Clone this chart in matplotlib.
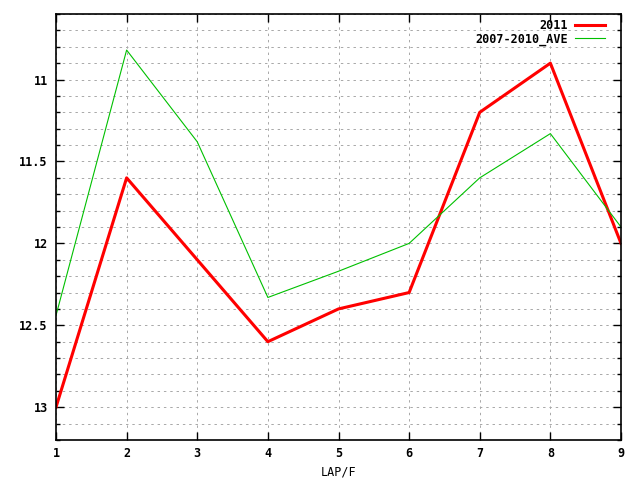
import numpy as np
import matplotlib.pyplot as plt
from matplotlib.ticker import MultipleLocator

laps = [1, 2, 3, 4, 5, 6, 7, 8, 9]
time_2011 = [13.0, 11.6, 12.1, 12.6, 12.4, 12.3, 11.2, 10.9, 12.0]
time_ave = [12.44, 10.82, 11.38, 12.33, 12.17, 12.0, 11.6, 11.33, 11.9]

plt.rcParams["font.family"] = "DejaVu Sans Mono"
plt.rcParams["font.weight"] = "bold"
plt.rcParams["font.size"] = 8.5

fig = plt.figure(figsize=(6.4, 4.8), dpi=100)
ax = fig.add_axes([56 / 640, 40 / 480, 565 / 640, 426 / 480])

ax.plot(laps, time_2011, color="#ff0000", lw=2.2, label="2011")
ax.plot(laps, time_ave, color="#00c000", lw=0.8, label="2007-2010_AVE")

ax.set_xlim(1, 9)
ax.set_ylim(13.2, 10.6)
ax.xaxis.set_major_locator(MultipleLocator(1))
ax.yaxis.set_minor_locator(MultipleLocator(0.1))
ax.set_yticks([11, 11.5, 12, 12.5, 13])
ax.set_yticklabels(["11", "11.5", "12", "12.5", "13"])

ax.tick_params(which="both", direction="in", top=True, right=True, width=1)
ax.tick_params(which="major", length=6)
ax.tick_params(which="minor", length=3)
ax.tick_params(axis="x", pad=5)
ax.tick_params(axis="y", pad=6)
grid_kw = dict(color="#a8a8a8", ls=(0, (2.5, 4)), lw=0.7)
ax.grid(True, which="major", axis="x", **grid_kw)
ax.grid(True, which="both", axis="y", **grid_kw)
for s in ax.spines.values():
    s.set_linewidth(1.2)

ax.set_xlabel("LAP/F", labelpad=4)

ax.legend(loc="upper right", bbox_to_anchor=(0.985, 1.004), frameon=False,
          markerfirst=False, handlelength=2.6, borderaxespad=0.2,
          labelspacing=0.0, handletextpad=0.6)
for t in ax.get_legend().get_texts():
    t.set_ha("right")

fig.savefig("out.png", dpi=100)
